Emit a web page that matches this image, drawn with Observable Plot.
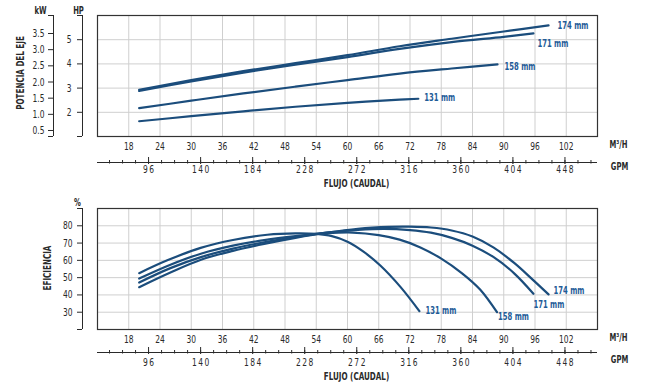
<!DOCTYPE html>
<html><head><meta charset="utf-8">
<script src="https://cdn.jsdelivr.net/npm/d3@7"></script>
<script src="https://cdn.jsdelivr.net/npm/@observablehq/plot@0.6"></script>
<style>
body{margin:0;background:#fff;}
#wrap{position:relative;width:654px;height:391px;overflow:hidden;}
#top{position:absolute;left:0;top:0}
#bot{position:absolute;left:0;top:195px}
</style></head><body><div id="wrap"><div id="top"></div><div id="bot"></div></div>
<script>
// ---------- data ----------
const sizes = ["174 mm", "171 mm", "158 mm", "131 mm"];
const flowTicksM3 = [18, 24, 30, 36, 42, 48, 54, 60, 66, 72, 78, 84, 90, 96, 102];
const flowTicksGPM = [96, 140, 184, 228, 272, 316, 360, 404, 448];
const hpTicks = [2, 3, 4, 5];
const kwTicks = [0.5, 1.0, 1.5, 2.0, 2.5, 3.0, 3.5];
const effTicks = [30, 40, 50, 60, 70, 80];

// power (HP) vs flow (m3/h)
const pFlow174 = [20, 30, 40, 50, 60, 70, 80, 90, 98.6];
const pHp174   = [2.93, 3.33, 3.70, 4.03, 4.36, 4.73, 5.04, 5.34, 5.59];
const pFlow171 = [20, 30, 40, 50, 60, 70, 80, 90, 95.7];
const pHp171   = [2.88, 3.28, 3.64, 3.97, 4.28, 4.62, 4.90, 5.12, 5.26];
const pFlow158 = [20, 30, 40, 50, 60, 70, 80, 88.8];
const pHp158   = [2.17, 2.48, 2.78, 3.06, 3.33, 3.60, 3.81, 3.98];
const pFlow131 = [20, 30, 40, 50, 60, 70, 73.6];
const pHp131   = [1.63, 1.84, 2.04, 2.23, 2.39, 2.52, 2.56];

// efficiency (%) vs flow (m3/h)
const eFlow174 = [20, 26, 32, 38, 44, 50, 56, 62, 68, 72, 76, 80, 84, 88, 92, 95.5, 98.6];
const eff174   = [44.5, 53, 60.5, 65.5, 69.5, 73, 76, 78.3, 79.4, 79.5, 79, 77.3, 73.8, 67.5, 58.5, 49, 40.3];
const eFlow171 = [20, 26, 32, 38, 44, 50, 56, 62, 67, 72, 76, 80, 84, 88, 92, 95.7];
const eff171   = [47.2, 55.5, 62, 66.8, 70.5, 73.5, 76, 77.6, 78.2, 77.5, 76, 73, 68.5, 62, 52.5, 40.7];
const eFlow158 = [20, 26, 32, 38, 44, 50, 56, 61, 66, 70, 74, 78, 82, 85.5, 88.7];
const eff158   = [49.5, 57.5, 64, 68.5, 71.7, 74, 75.7, 76.1, 74.6, 72, 67.5, 61, 52.5, 43, 30];
const eFlow131 = [20, 25.4, 31.8, 38, 44.6, 50, 54, 57, 60, 63, 66.3, 70.2, 73.8];
const eff131   = [52.6, 60, 67.2, 71.8, 74.8, 75.6, 75.3, 74, 70.8, 65.2, 57, 44.5, 30.6];

// ---------- helpers ----------
const GPM_PER_M3 = 4.40287;
const KW_TO_HP_SLOPE = 1.336, KW_TO_HP_OFFSET = 0.58; // printed kW scale against the HP grid
const kwToHp = kw => kw * KW_TO_HP_SLOPE + KW_TO_HP_OFFSET;
const hpToKw = hp => (hp - KW_TO_HP_OFFSET) / KW_TO_HP_SLOPE;
const X_DOMAIN = [12, 108];
const FONT = '"DejaVu Sans Condensed","Liberation Sans Narrow",sans-serif';
const LINE = "#1b4d7c", LABEL = "#1f5c98", GRID = "#cfcfcf", INK = "#2a2a2a";

const toRows = (flows, vals, size) => flows.map((f, i) => ({flow: f, v: vals[i], size}));
const powerRows = [
  ...toRows(pFlow174, pHp174, sizes[0]), ...toRows(pFlow171, pHp171, sizes[1]),
  ...toRows(pFlow158, pHp158, sizes[2]), ...toRows(pFlow131, pHp131, sizes[3])];
const effRows = [
  ...toRows(eFlow174, eff174, sizes[0]), ...toRows(eFlow171, eff171, sizes[1]),
  ...toRows(eFlow158, eff158, sizes[2]), ...toRows(eFlow131, eff131, sizes[3])];
const lastOf = rows => sizes.map(s => rows.filter(r => r.size === s).at(-1));

const gpmMinor = d3.range(63, 475, 11);
const gpmMajor = flowTicksGPM;

const title = (txt, frameAnchor, dx, dy, extra = {}) =>
  Plot.text([txt], {frameAnchor, dx, dy, textAnchor: "middle", fontWeight: "bold", fontSize: 10, fill: INK, ...extra});

function flowAxes(yMin, lineDy) {
  return [
    Plot.ruleY([yMin], {dy: lineDy, stroke: INK, strokeWidth: 1}),
    Plot.axisX(gpmMinor.map(g => g / GPM_PER_M3), {anchor: "bottom", dy: lineDy - 2, tickSize: 3.5, tickFormat: () => "", stroke: INK, label: null}),
    Plot.axisX(gpmMajor.map(g => g / GPM_PER_M3), {anchor: "bottom", dy: lineDy - 5, tickSize: 7, tickFormat: () => "", stroke: INK, label: null}),
    Plot.axisX(flowTicksM3, {anchor: "bottom", dy: 6, tickSize: 0, tickPadding: 0, label: null, fill: INK}),
    Plot.axisX(gpmMajor.map(g => g / GPM_PER_M3), {anchor: "bottom", dy: 29, tickSize: 0, tickPadding: 0, label: null, fill: INK,
      tickFormat: v => String(Math.round(v * GPM_PER_M3)).split("").join("\u2009")}),
    title("FLUJO (CAUDAL)", "bottom", 9, 50, {fontSize: 10.5}),
    title("M³/H", "bottom-right", 21, 11),
    title("GPM", "bottom-right", 22, 33)
  ];
}

function leftAxis(ticks, dx, yDomain, opts = {}) {
  return [
    Plot.ruleX([X_DOMAIN[0]], {dx, stroke: INK}),
    Plot.axisY(yDomain, {anchor: "left", dx, tickSize: 5, tickFormat: () => "", stroke: INK, label: null}),
    Plot.axisY(ticks, {anchor: "left", dx, tickSize: 5, stroke: INK, fill: INK, label: null, ...opts})
  ];
}
const sizeLabel = (row, dx, dy) => Plot.text([row], {x: "flow", y: "v", text: "size", dx, dy, textAnchor: "start", fill: LABEL, fontWeight: "bold", fontSize: 10});

// ---------- top chart: power ----------
const HP_DOMAIN = [1, 6];
const topEnds = lastOf(powerRows);
const topChart = Plot.plot({
  width: 654, height: 195, marginLeft: 97, marginRight: 57, marginTop: 15, marginBottom: 59,
  x: {domain: X_DOMAIN}, y: {domain: HP_DOMAIN},
  style: {fontFamily: FONT, fontSize: "11px", color: INK, background: "white"},
  marks: [
    Plot.gridX(flowTicksM3, {stroke: GRID, strokeOpacity: 1}),
    Plot.gridY(hpTicks, {stroke: GRID, strokeOpacity: 1}),
    Plot.frame({stroke: "#333", strokeWidth: 1.2}),
    ...leftAxis(hpTicks, -15, HP_DOMAIN, {tickPadding: 6}),
    ...leftAxis(kwTicks.map(kwToHp), -44, HP_DOMAIN, {tickPadding: 4, tickFormat: v => hpToKw(v).toFixed(1)}),
    title("kW", "top-left", -57, -9),
    title("HP", "top-left", -19, -9),
    title("POTENCIA DEL EJE", "left", -77, -3, {rotate: -90, fontSize: 10.5, ariaLabel: "ytitle"}),
    ...flowAxes(HP_DOMAIN[0], 26),
    Plot.line(powerRows, {x: "flow", y: "v", z: "size", stroke: LINE, strokeWidth: 2.2, curve: "catmull-rom"}),
    sizeLabel(topEnds[0], 9, 0),
    sizeLabel(topEnds[1], 4, 10),
    sizeLabel(topEnds[2], 7, 2),
    sizeLabel(topEnds[3], 6, -1)
  ]
});
document.getElementById("top").append(topChart);

// ---------- bottom chart: efficiency ----------
const EFF_DOMAIN = [20, 90];
const botEnds = lastOf(effRows);
const botChart = Plot.plot({
  width: 654, height: 196, marginLeft: 97, marginRight: 57, marginTop: 13, marginBottom: 62,
  x: {domain: X_DOMAIN}, y: {domain: EFF_DOMAIN},
  style: {fontFamily: FONT, fontSize: "11px", color: INK, background: "white"},
  marks: [
    Plot.gridX(flowTicksM3, {stroke: GRID, strokeOpacity: 1}),
    Plot.gridY(effTicks, {stroke: GRID, strokeOpacity: 1}),
    Plot.frame({stroke: "#333", strokeWidth: 1.2}),
    ...leftAxis(effTicks, -15, EFF_DOMAIN, {tickPadding: 5}),
    title("%", "top-left", -20, -10),
    title("EFICIENCIA", "left", -50, -1, {rotate: -90, fontSize: 10.5, ariaLabel: "ytitle"}),
    ...flowAxes(EFF_DOMAIN[0], 23),
    Plot.line(effRows, {x: "flow", y: "v", z: "size", stroke: LINE, strokeWidth: 2.2, curve: "catmull-rom"}),
    sizeLabel(botEnds[0], 5, -4),
    sizeLabel(botEnds[1], 0, 11),
    sizeLabel(botEnds[2], 1, 5),
    sizeLabel(botEnds[3], 6, 0)
  ]
});
document.getElementById("bot").append(botChart);

// emulate the narrow typeface of the original print (keep each text's anchor point)
function condense(svg) {
  d3.select(svg).selectAll("text").each(function () {
    if (this.querySelector("tspan")) return;
    const k = this.closest('g[aria-label="ytitle"]') ? 0.6 : 0.76;
    const len = this.getComputedTextLength();
    if (!(len > 0)) return;
    const anchor = getComputedStyle(this).textAnchor;
    const newLen = len * k;
    const shift = anchor === "middle" ? newLen / 2 : anchor === "end" ? newLen : 0;
    const x0 = this.x.baseVal.length ? this.x.baseVal[0].value : 0;
    this.setAttribute("x", (x0 - shift).toFixed(2));
    this.setAttribute("text-anchor", "start");
    this.style.textAnchor = "start";
    this.setAttribute("textLength", newLen.toFixed(2));
    this.setAttribute("lengthAdjust", "spacingAndGlyphs");
  });
}
condense(topChart);
condense(botChart);
</script>
</body></html>
